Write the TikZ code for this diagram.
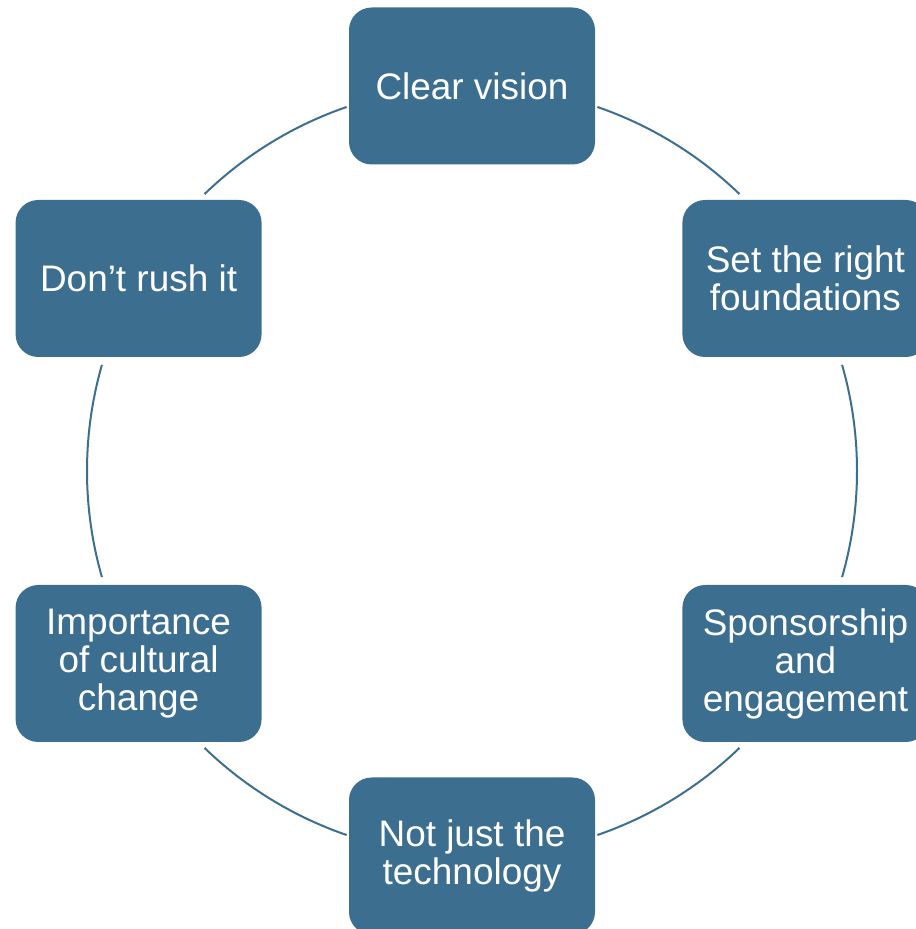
\documentclass[tikz,border=0pt]{standalone}
\usepackage{fontspec}
\setmainfont{Liberation Sans}
\usetikzlibrary{calc}
\definecolor{boxblue}{HTML}{3C6E8F}
\begin{document}
\begin{tikzpicture}[x=0.75pt,y=0.75pt,
  stepbox/.style={draw=none,fill=boxblue,rounded corners=17pt,
    minimum width=184.5pt,minimum height=117.75pt,inner sep=0pt,
    text=white,align=center,
    font=\fontsize{27.7pt}{28.5pt}\selectfont},
  ring/.style={draw=boxblue,line width=1.5pt}]
\useasboundingbox (0,0) rectangle (916,929);
\clip (0,0) rectangle (916,929);
\coordinate (C) at (472,458);
\node[stepbox] (top) at ($(C)+(90:385)$) {Clear vision};
\node[stepbox] (ur)  at ($(C)+(30:385)$) {Set the right\\foundations};
\node[stepbox] (lr)  at ($(C)+(-30:385)$) {Sponsorship\\and\\engagement};
\node[stepbox] (bot) at ($(C)+(-90:385)$) {Not just the\\technology};
\node[stepbox] (ll)  at ($(C)+(210:385)$) {Importance\\of cultural\\change};
\node[stepbox] (ul)  at ($(C)+(150:385)$) {Don’t rush it};
\coordinate (a1) at ($(C)+(71:385)$);
\coordinate (a2) at ($(C)+(16:385)$);
\coordinate (a3) at ($(C)+(-46:385)$);
\coordinate (a4) at ($(C)+(-109:385)$);
\coordinate (a5) at ($(C)+(196:385)$);
\coordinate (a6) at ($(C)+(134:385)$);
\draw[ring] (a1) arc[start angle=71,end angle=46,radius=288.75pt];
\draw[ring] (a2) arc[start angle=16,end angle=-16,radius=288.75pt];
\draw[ring] (a3) arc[start angle=-46,end angle=-71,radius=288.75pt];
\draw[ring] (a4) arc[start angle=-109,end angle=-134,radius=288.75pt];
\draw[ring] (a5) arc[start angle=196,end angle=164,radius=288.75pt];
\draw[ring] (a6) arc[start angle=134,end angle=109,radius=288.75pt];
\end{tikzpicture}
\end{document}
